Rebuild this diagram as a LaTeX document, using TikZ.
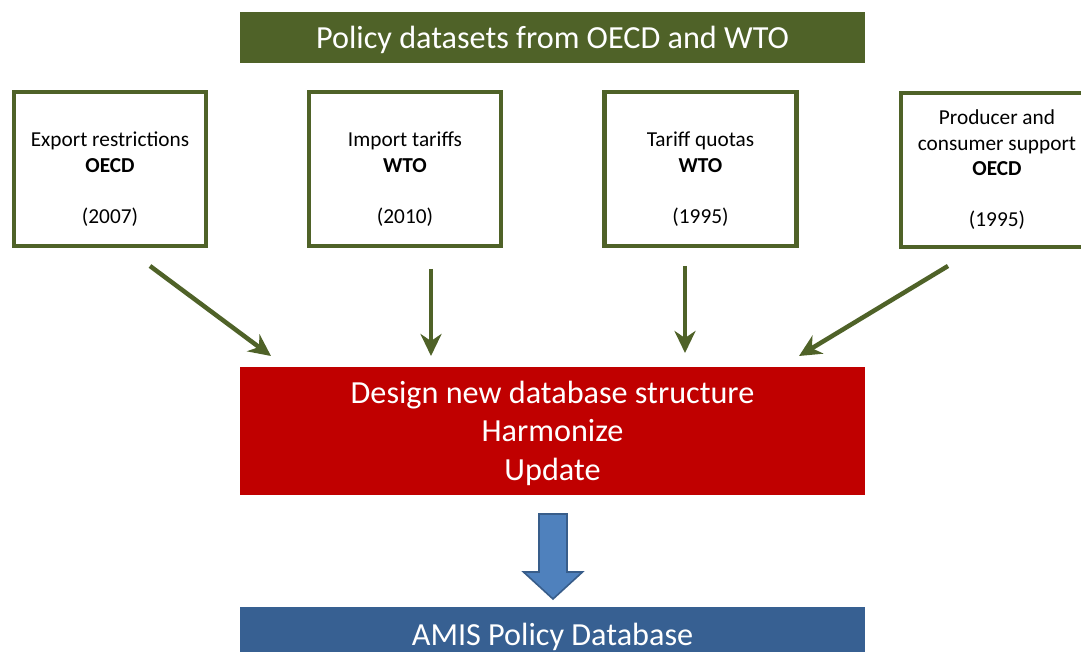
\documentclass[tikz,border=0pt]{standalone}
\usepackage{fontspec}
\setmainfont{Carlito}
\usetikzlibrary{arrows.meta}
\definecolor{olive}{HTML}{4F6228}
\definecolor{darkred}{HTML}{C00000}
\definecolor{arrowblue}{HTML}{4F81BD}
\definecolor{arrowedge}{HTML}{385D8A}
\definecolor{dbblue}{HTML}{376092}
\begin{document}
\begin{tikzpicture}[x=1pt,y=-1pt,
  banner/.style={fill=#1,draw=none,minimum width=625pt,inner sep=0pt,text=white,
     font=\fontsize{32.2}{38.5}\selectfont,align=center,text depth=0pt},
  srcbox/.style={draw=olive,line width=4.5pt,fill=white,minimum width=192pt,minimum height=154pt,inner sep=0pt},
  srctext/.style={align=center,font=\fontsize{21.3}{25.5}\selectfont,inner sep=0pt},
  feed/.style={draw=olive,line width=4.5pt,-{Stealth[length=22pt,width=21pt,inset=7pt]}}]
\useasboundingbox (0,0) rectangle (1081,652);
\fill[white] (0,0) rectangle (1081,652);
% title banner
\node[banner=olive,minimum height=51pt] (title) at (552.5,37.5) {Policy datasets from OECD and WTO};
% source boxes
\node[srcbox] (b1) at (110,169) {};
\node[srcbox] (b2) at (405,169) {};
\node[srcbox] (b3) at (700.5,169) {};
\node[srcbox] (b4) at (997,170) {};
\node[srctext] (t1) at (110,179) {Export restrictions\\\textbf{OECD}\\ \\(2007)};
\node[srctext] (t2) at (405,179) {Import tariffs\\\textbf{WTO}\\ \\(2010)};
\node[srctext] (t3) at (700.5,179) {Tariff quotas\\\textbf{WTO}\\ \\(1995)};
\node[srctext] (t4) at (997,170) {Producer and\\consumer support\\\textbf{OECD}\\ \\(1995)};
% processing box
\node[banner=darkred,minimum height=128pt] (proc) at (552.5,430.5) {Design new database structure\\Harmonize\\Update};
% feeding arrows
\coordinate (s1) at (150,266); \coordinate (e1) at (271,356);
\coordinate (s2) at (431,269); \coordinate (e2) at (431,356);
\coordinate (s3) at (685,266); \coordinate (e3) at (685,353);
\coordinate (s4) at (948,266); \coordinate (e4) at (799,356);
\draw[feed] (s1) -- (e1);
\draw[feed] (s2) -- (e2);
\draw[feed] (s3) -- (e3);
\draw[feed] (s4) -- (e4);
% result box
\node[banner=dbblue,minimum height=54pt] (db) at (552.5,634) {AMIS Policy Database};
% block arrow
\filldraw[fill=arrowblue,draw=arrowedge,line width=1.6pt,line join=miter]
  (539,514) -- (567,514) -- (567,572) -- (582.5,572) -- (553,599) -- (523.5,572) -- (539,572) -- cycle;
\end{tikzpicture}
\end{document}
